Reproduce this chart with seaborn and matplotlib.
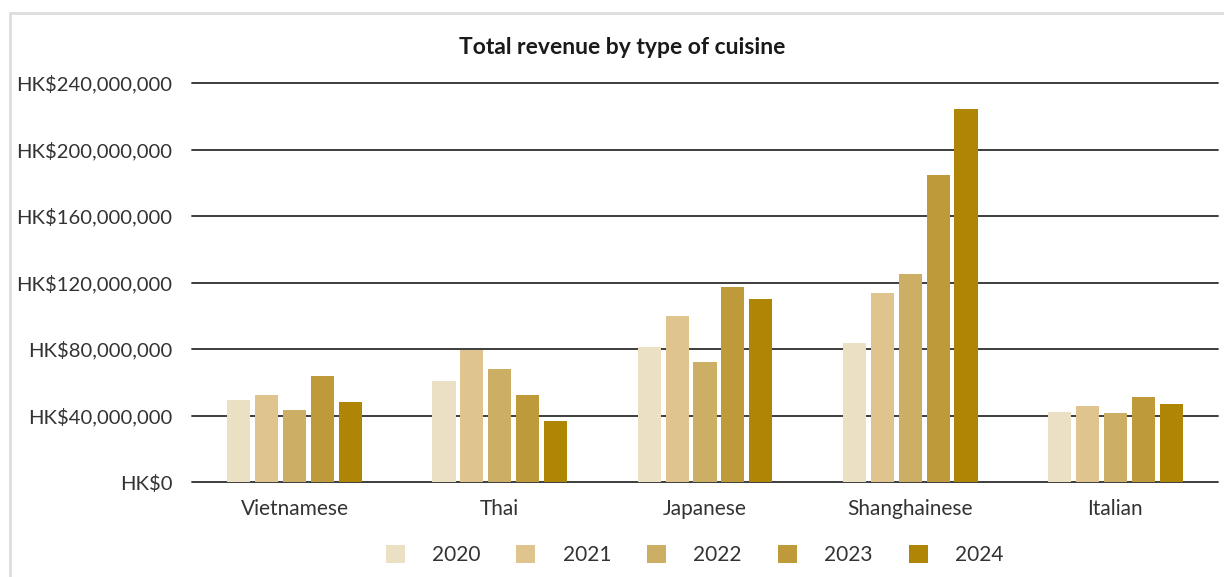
import matplotlib
matplotlib.use("Agg")
import matplotlib.pyplot as plt
from matplotlib.patches import Rectangle
from matplotlib.ticker import FuncFormatter
import seaborn as sns
import pandas as pd

cuisines = ["Vietnamese", "Thai", "Japanese", "Shanghainese", "Italian"]
years = ["2020", "2021", "2022", "2023", "2024"]
rev_2020 = [49.3e6, 60.8e6, 81.2e6, 83.6e6, 42.1e6]
rev_2021 = [52.3e6, 79.6e6, 99.8e6, 113.7e6, 45.7e6]
rev_2022 = [43.3e6, 68.0e6, 72.2e6, 125.1e6, 41.5e6]
rev_2023 = [63.8e6, 52.3e6, 117.3e6, 184.7e6, 51.1e6]
rev_2024 = [48.1e6, 36.7e6, 110.1e6, 224.4e6, 46.9e6]
colors = ["#EBE0C3", "#DFC48E", "#CDAE65", "#BF9A3B", "#AE8505"]

series = [rev_2020, rev_2021, rev_2022, rev_2023, rev_2024]
rows = []
for y, vals in zip(years, series):
    for c, v in zip(cuisines, vals):
        rows.append({"Cuisine": c, "Year": y, "Revenue": v})
df = pd.DataFrame(rows)

sns.set_theme(style="white")
plt.rcParams["font.family"] = ["Lato", "DejaVu Sans"]

fig = plt.figure(figsize=(12.24, 5.77), dpi=100)
W, H = 1224, 577
ax = fig.add_axes([192 / W, 1 - 482 / H, (1218 - 192) / W, (482 - 83) / H])

sns.barplot(data=df, x="Cuisine", y="Revenue", hue="Year", order=cuisines,
            hue_order=years, palette=colors, width=0.68, gap=0.17,
            saturation=1, errorbar=None, ax=ax, legend=True, zorder=3,
            linewidth=0)

ax.set_xlim(-0.5, 4.5)
ax.set_ylim(0, 240e6)
ax.set_yticks([0, 40e6, 80e6, 120e6, 160e6, 200e6, 240e6])
ax.yaxis.set_major_formatter(FuncFormatter(lambda v, p: f"HK${v:,.0f}"))
ax.grid(axis="y", color="#2e2e2e", linewidth=1.3, zorder=0)
ax.set_axisbelow(True)
for gl in ax.get_ygridlines():
    gl.set_clip_on(False)
for s in ax.spines.values():
    s.set_visible(False)
ax.set_xlabel("")
ax.set_ylabel("")
ax.tick_params(axis="y", length=0, pad=14, labelsize=14.6, labelcolor="#333333")
ax.tick_params(axis="x", length=0, pad=12, labelsize=15, labelcolor="#333333")

handles, labels = ax.get_legend_handles_labels()
ax.get_legend().remove()
fig.legend(handles, labels, loc="center", bbox_to_anchor=(694.5 / W, 1 - 555 / H),
           ncol=5, frameon=False, fontsize=15, handlelength=0.92, handleheight=0.92,
           handletextpad=1.3, columnspacing=1.73, labelcolor="#333333")

fig.text(622 / W, 1 - 47 / H, "Total revenue by type of cuisine", ha="center",
         va="center", fontsize=16.5, fontweight="bold", color="#1a1a1a")

fig.patches.append(Rectangle((10 / W, -0.2), 1.2, 1 - 13 / H + 0.2,
                             transform=fig.transFigure, fill=False,
                             edgecolor="#DDDDDD", linewidth=2))

fig.savefig("out.png", dpi=100)
